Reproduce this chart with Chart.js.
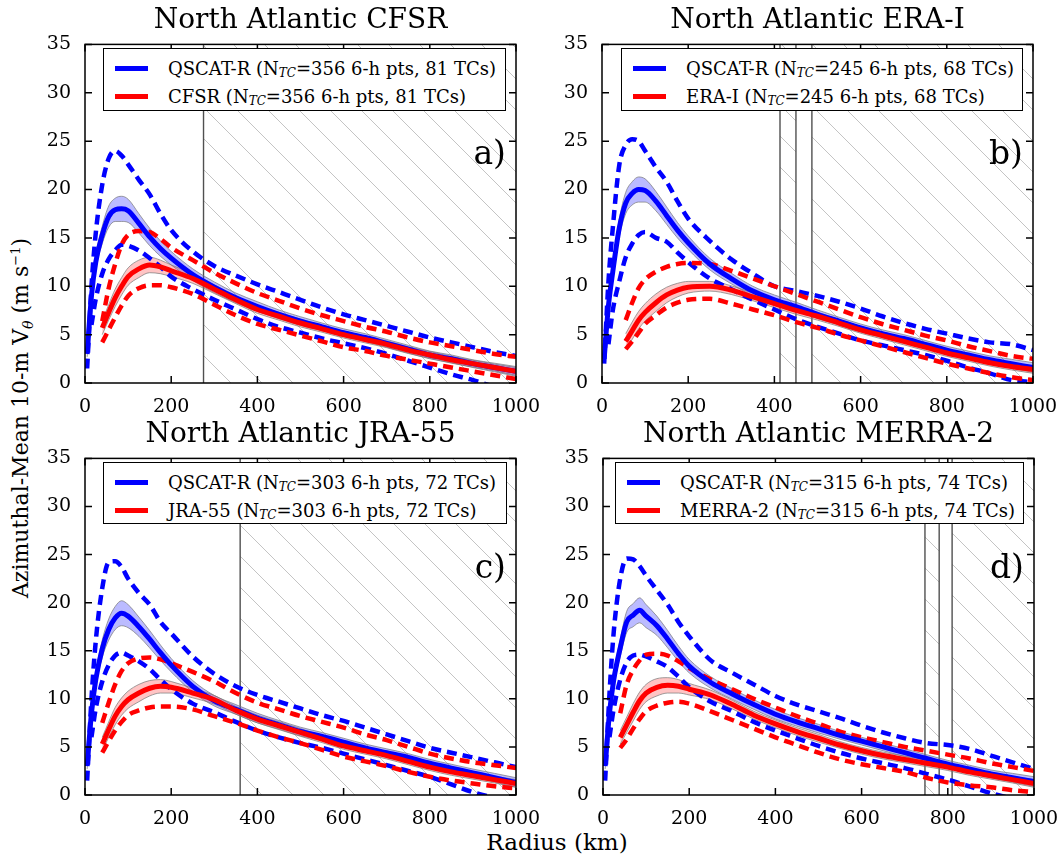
<!DOCTYPE html>
<html>
<head>
<meta charset="utf-8">
<script src="https://cdn.jsdelivr.net/npm/chart.js@4.4.1/dist/chart.umd.min.js"></script>
<style>
body { margin: 0; background: #fff; }
#page { position: relative; width: 1062px; height: 855px; overflow: hidden; font-family: "DejaVu Serif", serif; color: #000; }
.cv { position: absolute; }
.title { position: absolute; font-size: 28px; text-align: center; white-space: nowrap; transform: translate(-50%, -50%); }
.tag { position: absolute; font-size: 33px; white-space: nowrap; transform: translate(-100%, -50%); }
.legend { position: absolute; border: 1.5px solid #000; background: #fff; font-size: 18px; box-sizing: border-box; padding: 5px 0 0 11px; }
.legend .row { height: 28px; display: flex; align-items: center; white-space: nowrap; }
.legend .sw { width: 33px; height: 5px; margin-right: 20px; }
.legend sub { font-size: 12px; font-style: italic; vertical-align: baseline; position: relative; top: 5px; }
.ylab { position: absolute; left: 22px; top: 418px; font-size: 22px; white-space: nowrap; transform: translate(-50%, -50%) rotate(-90deg); }
.ylab sub { font-size: 14px; font-style: italic; }
.ylab sup { font-size: 13px; }
.xlab { position: absolute; left: 557px; top: 842px; font-size: 23px; white-space: nowrap; transform: translate(-50%, -50%); }
</style>
</head>
<body>
<div id="page">
  <div class="ylab">Azimuthal-Mean 10-m V<sub>θ</sub> (m s<sup>−1</sup>)</div>
  <div class="xlab">Radius (km)</div>
</div>
<script>
// radius grid (km)
var radii = [5, 15, 25, 40, 55, 70, 85, 100, 125, 150, 175, 200, 250, 300, 350, 400, 450, 500, 550, 600, 650, 700, 750, 800, 850, 900, 950, 1000];
var xTicks = [0, 200, 400, 600, 800, 1000];
var yTicks = [0, 5, 10, 15, 20, 25, 30, 35];

// a) CFSR
var qscatA   = [3.0, 9.0, 12.5, 15.3, 17.2, 17.9, 18.0, 17.8, 16.5, 15.1, 13.9, 12.9, 11.2, 9.9, 8.8, 7.9, 7.1, 6.4, 5.8, 5.2, 4.7, 4.1, 3.5, 2.9, 2.5, 2.0, 1.6, 1.2];
var qscatHiA = [1.5, 10.0, 15.5, 20.5, 23.2, 24.0, 23.5, 22.6, 21.0, 19.5, 17.5, 15.8, 13.6, 12.1, 11.1, 10.2, 9.4, 8.6, 7.8, 7.1, 6.5, 5.9, 5.3, 4.7, 4.2, 3.7, 3.2, 2.8];
var qscatLoA = [null, 6.0, 8.7, 11.3, 12.8, 13.7, 14.3, 14.2, 13.7, 12.9, 12.0, 11.0, 9.7, 8.6, 7.6, 6.6, 5.8, 5.2, 4.6, 4.1, 3.6, 3.0, 2.3, 1.6, 0.9, 0.3, -0.4, -1.0];
var cfsr     = [null, null, null, 5.7, 7.3, 8.8, 10.0, 11.0, 11.8, 12.2, 12.0, 11.6, 10.8, 9.7, 8.6, 7.6, 6.9, 6.2, 5.6, 5.0, 4.5, 4.0, 3.4, 2.9, 2.4, 2.0, 1.6, 1.2];
var cfsrHi   = [null, null, null, 6.4, 9.8, 12.3, 14.3, 15.3, 15.7, 15.6, 14.9, 14.0, 12.7, 11.4, 10.3, 9.3, 8.5, 7.7, 7.0, 6.4, 5.8, 5.3, 4.7, 4.2, 3.8, 3.4, 3.0, 2.7];
var cfsrLo   = [null, null, null, 4.2, 5.5, 6.8, 8.0, 9.0, 9.8, 10.1, 10.1, 9.9, 9.2, 8.1, 7.0, 6.1, 5.5, 4.9, 4.3, 3.7, 3.3, 2.8, 2.4, 2.0, 1.6, 1.2, 0.8, 0.4];

// b) ERA-I
var qscatB   = [2.5, 8.0, 11.5, 16.0, 18.6, 19.6, 20.0, 19.9, 18.8, 17.3, 15.8, 14.5, 12.3, 10.8, 9.5, 8.6, 7.9, 7.1, 6.4, 5.7, 5.1, 4.6, 4.0, 3.4, 2.9, 2.4, 2.0, 1.6];
var qscatHiB = [2.0, 10.5, 16.0, 22.5, 24.6, 25.2, 25.0, 24.0, 22.3, 20.8, 18.8, 17.0, 14.7, 12.8, 11.3, 10.0, 9.5, 9.0, 8.4, 7.7, 6.9, 6.2, 5.6, 5.1, 4.6, 4.2, 4.0, 3.4];
var qscatLoB = [null, 4.0, 7.5, 10.5, 13.0, 14.4, 15.3, 15.6, 15.0, 14.6, 13.5, 12.5, 10.8, 9.7, 8.6, 7.6, 6.6, 5.8, 5.1, 4.4, 3.9, 3.4, 2.9, 2.3, 1.6, 1.0, 0.3, 0.1];
var erai     = [null, null, null, null, 4.3, 5.4, 6.5, 7.3, 8.3, 9.1, 9.6, 9.9, 10.0, 9.6, 8.9, 8.2, 7.5, 6.9, 6.2, 5.5, 4.9, 4.3, 3.7, 3.1, 2.6, 2.1, 1.7, 1.4];
var eraiHi   = [null, null, null, null, 6.5, 8.3, 9.8, 10.7, 11.5, 12.0, 12.3, 12.4, 12.3, 11.6, 10.8, 10.0, 9.2, 8.4, 7.6, 6.8, 6.1, 5.5, 4.9, 4.4, 3.8, 3.3, 2.8, 2.5];
var eraiLo   = [null, null, null, null, 3.5, 4.3, 5.2, 6.1, 7.0, 7.8, 8.3, 8.6, 8.7, 8.2, 7.6, 7.0, 6.3, 5.7, 5.0, 4.4, 3.8, 3.2, 2.6, 2.0, 1.5, 1.0, 0.6, 0.3];

// c) JRA-55
var qscatC   = [3.0, 8.5, 12.0, 15.2, 17.2, 18.4, 18.9, 18.6, 17.5, 16.2, 14.8, 13.5, 11.3, 9.8, 8.9, 8.0, 7.3, 6.6, 6.1, 5.5, 4.9, 4.4, 3.9, 3.3, 2.8, 2.3, 1.8, 1.3];
var qscatHiC = [1.5, 10.0, 16.0, 21.5, 24.2, 24.3, 23.7, 22.5, 21.0, 19.8, 18.0, 16.8, 14.4, 12.6, 11.3, 10.4, 9.7, 9.0, 8.3, 7.7, 7.0, 6.3, 5.6, 4.9, 4.4, 3.9, 3.4, 2.9];
var qscatLoC = [null, 6.0, 9.0, 11.8, 13.5, 14.5, 14.8, 14.5, 13.9, 13.1, 12.0, 11.0, 9.5, 8.6, 7.6, 6.7, 6.0, 5.4, 4.9, 4.3, 3.7, 3.1, 2.5, 1.9, 1.1, 0.3, -0.3, -0.8];
var jra      = [null, null, null, 5.3, 6.8, 8.2, 9.2, 9.9, 10.6, 11.1, 11.3, 11.2, 10.6, 9.9, 8.8, 7.9, 7.2, 6.5, 5.8, 5.1, 4.6, 4.1, 3.5, 2.9, 2.4, 2.0, 1.6, 1.2];
var jraHi    = [null, null, null, 7.5, 9.6, 11.5, 12.9, 13.7, 14.2, 14.3, 14.1, 13.7, 12.8, 11.8, 10.6, 9.6, 8.9, 8.2, 7.6, 7.0, 6.3, 5.7, 5.0, 4.3, 3.8, 3.4, 3.1, 2.8];
var jraLo    = [null, null, null, 4.4, 5.6, 6.7, 7.6, 8.3, 8.8, 9.1, 9.2, 9.2, 8.9, 8.2, 7.5, 6.7, 6.0, 5.4, 4.7, 4.0, 3.5, 3.0, 2.4, 1.9, 1.5, 1.2, 0.9, 0.7];

// d) MERRA-2
var qscatD   = [3.0, 8.5, 12.0, 15.3, 18.0, 18.7, 19.2, 18.6, 17.6, 16.2, 14.7, 13.4, 11.7, 10.5, 9.4, 8.4, 7.6, 6.9, 6.2, 5.6, 5.0, 4.4, 3.8, 3.2, 2.7, 2.2, 1.8, 1.4];
var qscatHiD = [1.5, 10.5, 17.0, 22.5, 24.6, 24.5, 23.8, 22.8, 21.3, 19.8, 18.0, 16.5, 14.0, 12.7, 11.5, 10.3, 9.4, 8.7, 8.0, 7.2, 6.5, 5.9, 5.4, 5.2, 4.8, 4.1, 3.4, 2.7];
var qscatLoD = [null, 6.0, 9.0, 12.0, 13.8, 14.5, 14.6, 14.4, 13.9, 13.3, 12.3, 11.2, 9.7, 8.7, 7.6, 6.7, 5.9, 5.1, 4.4, 3.8, 3.3, 2.8, 2.2, 1.6, 0.9, 0.2, -0.4, -1.0];
var merra    = [null, null, null, 6.0, 7.3, 8.6, 9.8, 10.6, 11.2, 11.4, 11.3, 11.0, 10.4, 9.4, 8.3, 7.4, 6.6, 5.9, 5.2, 4.6, 4.1, 3.7, 3.3, 2.9, 2.4, 2.0, 1.6, 1.2];
var merraHi  = [null, null, null, 8.5, 11.5, 13.0, 14.0, 14.6, 14.7, 14.5, 13.9, 13.2, 12.0, 11.0, 10.0, 9.1, 8.2, 7.4, 6.6, 6.0, 5.5, 5.0, 4.6, 4.2, 3.8, 3.3, 2.9, 2.5];
var merraLo  = [null, null, null, 4.9, 5.8, 6.9, 7.9, 8.7, 9.3, 9.6, 9.7, 9.5, 8.7, 7.8, 6.9, 6.0, 5.2, 4.4, 3.7, 3.2, 2.8, 2.4, 1.8, 1.3, 1.0, 0.8, 0.5, 0.3];

// half-width of the shaded confidence band around each mean
var bandQscat = [0.3, 0.5, 0.7, 0.9, 1.1, 1.2, 1.3, 1.2, 1.0, 0.9, 0.8, 0.7, 0.6, 0.55, 0.5, 0.5, 0.45, 0.45, 0.4, 0.4, 0.4, 0.4, 0.4, 0.4, 0.4, 0.4, 0.45, 0.5];
var bandReana = [null, null, null, 0.7, 0.8, 0.9, 0.9, 0.9, 0.9, 0.8, 0.7, 0.6, 0.5, 0.45, 0.4, 0.4, 0.4, 0.4, 0.35, 0.35, 0.35, 0.35, 0.35, 0.35, 0.35, 0.35, 0.35, 0.4];

var panels = [
  { tag: 'a)', title: 'North Atlantic CFSR', name: 'CFSR', n: 356, tcs: 81,
    q: qscatA, qHi: qscatHiA, qLo: qscatLoA, r: cfsr, rHi: cfsrHi, rLo: cfsrLo,
    lines: [275], hatch: [[275, 1000]],
    box: [85, 39, 516, 383], legend: [103, 48, 403, 63] },
  { tag: 'b)', title: 'North Atlantic ERA-I', name: 'ERA-I', n: 245, tcs: 68,
    q: qscatB, qHi: qscatHiB, qLo: qscatLoB, r: erai, rHi: eraiHi, rLo: eraiLo,
    lines: [413, 450, 487], hatch: [[413, 450], [487, 1000]],
    box: [602, 39, 1033, 383], legend: [621, 48, 402, 63] },
  { tag: 'c)', title: 'North Atlantic JRA-55', name: 'JRA-55', n: 303, tcs: 72,
    q: qscatC, qHi: qscatHiC, qLo: qscatLoC, r: jra, rHi: jraHi, rLo: jraLo,
    lines: [360], hatch: [[360, 1000]],
    box: [85, 453, 516, 795], legend: [103, 462, 404, 62] },
  { tag: 'd)', title: 'North Atlantic MERRA-2', name: 'MERRA-2', n: 315, tcs: 74,
    q: qscatD, qHi: qscatHiD, qLo: qscatLoD, r: merra, rHi: merraHi, rLo: merraLo,
    lines: [747, 780, 810], hatch: [[747, 780], [810, 1000]],
    box: [603, 453, 1034, 795], legend: [615, 462, 409, 62] }
];

function pts(arr) {
  return radii.map(function(r, i) { return { x: r, y: arr[i] }; });
}
function shifted(arr, band, sign) {
  return radii.map(function(r, i) {
    return { x: r, y: arr[i] == null ? null : arr[i] + sign * band[i] };
  });
}

// hatch behind the data, inward ticks and frame on top
var framePlugin = {
  id: 'frame',
  beforeDatasetsDraw: function(chart) {
    var ctx = chart.ctx, a = chart.chartArea, xs = chart.scales.x;
    var spans = chart.options.plugins.frame.hatch;
    spans.forEach(function(s) {
      var x0 = xs.getPixelForValue(s[0]), x1 = xs.getPixelForValue(s[1]);
      ctx.save();
      ctx.beginPath();
      ctx.rect(x0, a.top, x1 - x0, a.bottom - a.top);
      ctx.clip();
      ctx.strokeStyle = '#c4c4c4';
      ctx.lineWidth = 1;
      var h = a.bottom - a.top;
      for (var x = a.left - h - 40; x < a.right + 40; x += 31) {
        ctx.beginPath();
        ctx.moveTo(x, a.top);
        ctx.lineTo(x + h, a.bottom);
        ctx.stroke();
      }
      ctx.restore();
    });
  },
  afterDraw: function(chart) {
    var ctx = chart.ctx, a = chart.chartArea, xs = chart.scales.x, ys = chart.scales.y;
    ctx.save();
    ctx.strokeStyle = '#000';
    ctx.lineWidth = 1.5;
    ctx.beginPath();
    xTicks.forEach(function(t) {
      var p = xs.getPixelForValue(t);
      ctx.moveTo(p, a.bottom); ctx.lineTo(p, a.bottom - 7);
      ctx.moveTo(p, a.top); ctx.lineTo(p, a.top + 7);
    });
    yTicks.forEach(function(t) {
      var p = ys.getPixelForValue(t);
      ctx.moveTo(a.left, p); ctx.lineTo(a.left + 7, p);
      ctx.moveTo(a.right, p); ctx.lineTo(a.right - 7, p);
    });
    ctx.stroke();
    ctx.strokeRect(a.left, a.top, a.right - a.left, a.bottom - a.top);
    ctx.restore();
  }
};

var page = document.getElementById('page');
var PAD_TOP = 12, PAD_RIGHT = 30, Y_W = 65, X_H = 32;

panels.forEach(function(p) {
  var left = p.box[0] - Y_W, top = p.box[1] - PAD_TOP;
  var w = p.box[2] - left + PAD_RIGHT, h = p.box[3] + X_H - top;
  var wrap = document.createElement('div');
  wrap.className = 'cv';
  wrap.style.cssText = 'left:' + left + 'px;top:' + top + 'px;width:' + w + 'px;height:' + h + 'px;';
  var cv = document.createElement('canvas');
  wrap.appendChild(cv);
  page.appendChild(wrap);

  var datasets = [];
  // boundary lines of the hatched zones
  p.lines.forEach(function(v) {
    datasets.push({ data: [{ x: v, y: 0 }, { x: v, y: 35 }], borderColor: '#505050', borderWidth: 1.4, order: 20 });
  });
  // shaded bands (upper edge, then lower edge filled to it)
  datasets.push({ data: shifted(p.q, bandQscat, 1), borderColor: 'rgba(120,120,120,0.7)', borderWidth: 1, order: 12 });
  datasets.push({ data: shifted(p.q, bandQscat, -1), borderColor: 'rgba(120,120,120,0.7)', borderWidth: 1, order: 12,
    fill: '-1', backgroundColor: 'rgba(60,60,255,0.35)' });
  datasets.push({ data: shifted(p.r, bandReana, 1), borderColor: 'rgba(120,120,120,0.7)', borderWidth: 1, order: 11 });
  datasets.push({ data: shifted(p.r, bandReana, -1), borderColor: 'rgba(120,120,120,0.7)', borderWidth: 1, order: 11,
    fill: '-1', backgroundColor: 'rgba(255,60,60,0.3)' });
  // percentile dashed curves
  [[p.rHi, '#ff0000'], [p.rLo, '#ff0000'], [p.qHi, '#0000ff'], [p.qLo, '#0000ff']].forEach(function(d, i) {
    datasets.push({ data: pts(d[0]), borderColor: d[1], borderWidth: 4.5, borderDash: [10, 6], order: 5 + i });
  });
  // means
  datasets.push({ data: pts(p.q), borderColor: '#0000ff', borderWidth: 5, order: 2 });
  datasets.push({ data: pts(p.r), borderColor: '#ff0000', borderWidth: 5, order: 1 });

  new Chart(cv, {
    type: 'line',
    data: { datasets: datasets },
    plugins: [framePlugin],
    options: {
      responsive: true,
      maintainAspectRatio: false,
      animation: false,
      events: [],
      layout: { padding: { top: PAD_TOP, right: PAD_RIGHT, left: 0, bottom: 0 } },
      elements: {
        point: { radius: 0 },
        line: { cubicInterpolationMode: 'monotone', fill: false, borderCapStyle: 'butt' }
      },
      plugins: {
        legend: { display: false },
        tooltip: { enabled: false },
        frame: { hatch: p.hatch }
      },
      scales: {
        x: {
          type: 'linear', min: 0, max: 1000,
          afterBuildTicks: function(s) { s.ticks = xTicks.map(function(v) { return { value: v }; }); },
          afterFit: function(s) { s.height = X_H; },
          grid: { display: false },
          border: { display: false },
          ticks: { color: '#000', padding: 5, maxRotation: 0, font: { family: 'DejaVu Serif', size: 19 },
            callback: function(v) { return String(v); } }
        },
        y: {
          type: 'linear', min: 0, max: 35,
          afterBuildTicks: function(s) { s.ticks = yTicks.map(function(v) { return { value: v }; }); },
          afterFit: function(s) { s.width = Y_W; },
          grid: { display: false },
          border: { display: false },
          ticks: { color: '#000', padding: 6, font: { family: 'DejaVu Serif', size: 19 },
            callback: function(v) { return String(v); } }
        }
      }
    }
  });

  var t = document.createElement('div');
  t.className = 'title';
  t.textContent = p.title;
  t.style.left = ((p.box[0] + p.box[2]) / 2) + 'px';
  t.style.top = (p.box[1] - 21) + 'px';
  page.appendChild(t);

  var tg = document.createElement('div');
  tg.className = 'tag';
  tg.textContent = p.tag;
  tg.style.left = (p.box[2] - 10) + 'px';
  tg.style.top = (p.box[1] + 113) + 'px';
  page.appendChild(tg);

  var lg = document.createElement('div');
  lg.className = 'legend';
  lg.style.cssText = 'left:' + p.legend[0] + 'px;top:' + p.legend[1] + 'px;width:' + p.legend[2] + 'px;height:' + p.legend[3] + 'px;';
  lg.innerHTML =
    '<div class="row"><span class="sw" style="background:#0000ff"></span>QSCAT-R (N<sub>TC</sub>=' + p.n + ' 6-h pts, ' + p.tcs + ' TCs)</div>' +
    '<div class="row"><span class="sw" style="background:#ff0000"></span>' + p.name + ' (N<sub>TC</sub>=' + p.n + ' 6-h pts, ' + p.tcs + ' TCs)</div>';
  page.appendChild(lg);
});
</script>
</body>
</html>
